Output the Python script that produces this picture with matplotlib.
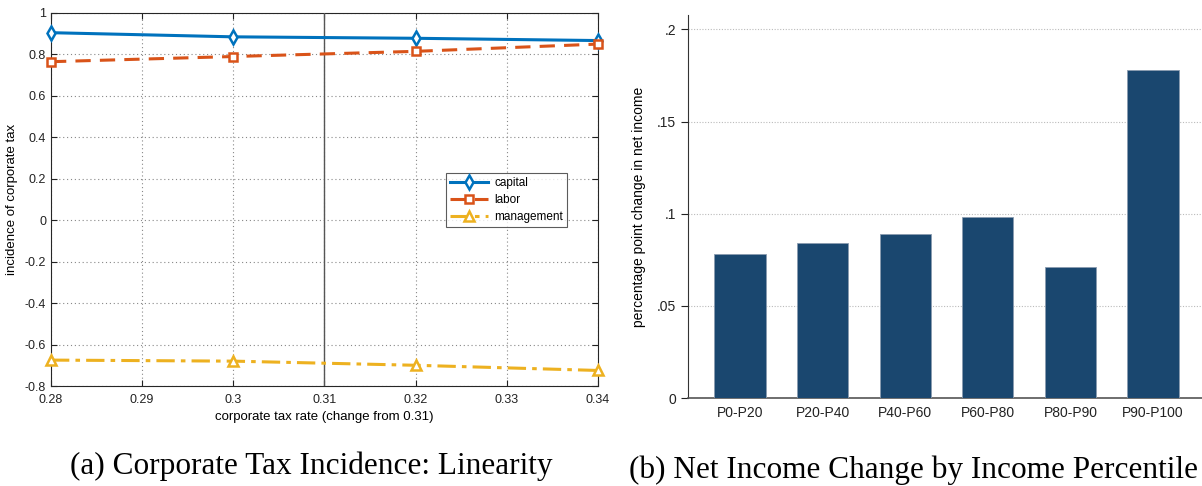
import matplotlib
matplotlib.use("Agg")
import matplotlib.pyplot as plt
import numpy as np

# Panel (a) data
tax_rate = [0.28, 0.30, 0.32, 0.34]
capital = [0.905, 0.885, 0.878, 0.867]
labor = [0.765, 0.790, 0.815, 0.850]
management = [-0.675, -0.680, -0.700, -0.725]
x_ticks_a = [0.28, 0.29, 0.30, 0.31, 0.32, 0.33, 0.34]
x_ticklabels_a = ["0.28", "0.29", "0.3", "0.31", "0.32", "0.33", "0.34"]
y_ticks_a = [-0.8, -0.6, -0.4, -0.2, 0, 0.2, 0.4, 0.6, 0.8, 1]
y_ticklabels_a = ["-0.8", "-0.6", "-0.4", "-0.2", "0", "0.2", "0.4", "0.6", "0.8", "1"]

# Panel (b) data
groups = ["P0-P20", "P20-P40", "P40-P60", "P60-P80", "P80-P90", "P90-P100"]
net_change = [0.078, 0.084, 0.089, 0.098, 0.071, 0.178]
y_ticks_b = [0, 0.05, 0.10, 0.15, 0.20]
y_ticklabels_b = ["0", ".05", ".1", ".15", ".2"]

plt.rcParams["font.family"] = ["Liberation Sans", "DejaVu Sans"]

W, H = 1202, 486
fig = plt.figure(figsize=(W / 100, H / 100), dpi=100)

# ---- Panel (a)
ax1 = fig.add_axes([51 / W, 1 - 386 / H, (598 - 51) / W, (386 - 13) / H])
c_cap, c_lab, c_man = "#0072BD", "#D95319", "#EDB120"
ax1.plot(tax_rate, capital, color=c_cap, lw=2.2, ls="-", marker="d", ms=7,
         mfc="white", mec=c_cap, mew=1.8, label="capital", zorder=4, clip_on=False)
ax1.plot(tax_rate, labor, color=c_lab, lw=2.2, ls=(0, (5, 3)), marker="s", ms=5.5,
         mfc="white", mec=c_lab, mew=1.8, label="labor", zorder=4, clip_on=False)
ax1.plot(tax_rate, management, color=c_man, lw=2.2, ls=(0, (6, 2, 1.5, 2)), marker="^", ms=7,
         mfc="white", mec=c_man, mew=1.8, label="management", zorder=4, clip_on=False)
ax1.axvline(0.31, color="#555555", lw=1.0, zorder=3)
ax1.set_xlim(0.28, 0.34)
ax1.set_ylim(-0.8, 1)
ax1.set_xticks(x_ticks_a)
ax1.set_xticklabels(x_ticklabels_a)
ax1.set_yticks(y_ticks_a)
ax1.set_yticklabels(y_ticklabels_a)
ax1.grid(True, ls=(0, (1, 2.5)), color="#888888", lw=0.8)
ax1.tick_params(direction="in", top=True, right=True, labelsize=9, length=4, colors="#222222")
ax1.tick_params(axis="x", pad=6)
for s in ax1.spines.values():
    s.set_color("#262626")
    s.set_linewidth(0.8)
ax1.set_xlabel("corporate tax rate (change from 0.31)", fontsize=9.5, labelpad=3)
ax1.set_ylabel("incidence of corporate tax", fontsize=9.5, labelpad=5)
leg = ax1.legend(loc="upper left", bbox_to_anchor=(0.712, 0.588), fontsize=8.5, frameon=True,
                 fancybox=False, edgecolor="#333333", handlelength=3.2, borderpad=0.35,
                 labelspacing=0.45, handletextpad=0.5)
leg.get_frame().set_linewidth(0.8)

# ---- Panel (b)
ax2 = fig.add_axes([688 / W, 1 - 398 / H, (1205 - 688) / W, (398 - 15) / H])
xpos = np.arange(len(groups))
ax2.bar(xpos, net_change, width=0.62, color="#1a476f", edgecolor="#8a9bb0", linewidth=0.6, zorder=3)
ax2.set_xlim(-0.63, 5.63)
ax2.set_ylim(0, 0.2078)
ax2.set_yticks(y_ticks_b)
ax2.set_yticklabels(y_ticklabels_b)
ax2.set_xticks(xpos)
ax2.set_xticklabels(groups)
ax2.grid(axis="y", ls=(0, (1, 1.5)), color="#bbbbbb", lw=0.8, zorder=0)
ax2.spines["top"].set_visible(False)
ax2.spines["right"].set_visible(False)
ax2.spines["left"].set_color("#333333")
ax2.spines["bottom"].set_color("#555555")
ax2.spines["bottom"].set_linewidth(1.2)
ax2.tick_params(axis="y", direction="out", length=5, labelsize=10, colors="#222222")
ax2.tick_params(axis="x", length=0, labelsize=10, pad=6, colors="#222222")
ax2.set_ylabel("percentage point change in net income", fontsize=10, labelpad=8)

# Captions
fig.text(311 / W, 1 - 466 / H, "(a) Corporate Tax Incidence: Linearity", ha="center", va="center",
         fontsize=22.5, family=["Liberation Serif", "DejaVu Serif"])
fig.text(629 / W, 1 - 470 / H, "(b) Net Income Change by Income Percentile", ha="left", va="center",
         fontsize=22.5, family=["Liberation Serif", "DejaVu Serif"])

fig.savefig("out.png", dpi=100)
